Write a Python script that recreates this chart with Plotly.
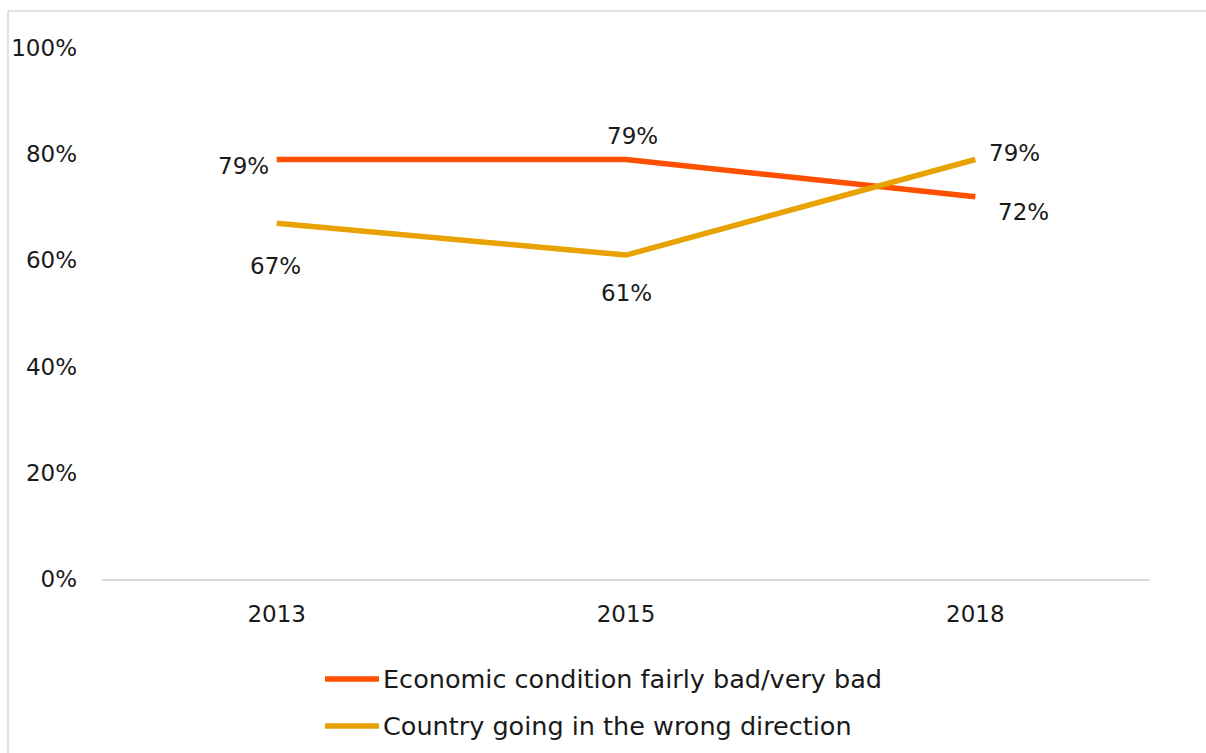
import plotly.graph_objects as go

# Survey years and shares (percent)
years = ["2013", "2015", "2018"]
economy_bad = [79, 79, 72]
wrong_direction = [67, 61, 79]
series_names = ["Economic condition fairly bad/very bad", "Country going in the wrong direction"]
y_ticks = [0, 20, 40, 60, 80, 100]
y_tick_text = ["0%", "20%", "40%", "60%", "80%", "100%"]

W, H = 1206, 753
ML, MR, MT, MB = 102, 56, 48, 174
PW, PH = W - ML - MR, H - MT - MB

ORANGE = "#FF5000"
GOLD = "#E8A202"
FONT = "DejaVu Sans"
FS = 23
FS_LEGEND = 25.5
TXT = "#1a1a1a"


def px_x(x):
    return (x - ML) / PW


def px_y(y):
    return (H - MB - y) / PH


fig = go.Figure()
fig.add_trace(go.Scatter(x=years, y=economy_bad, mode="lines", name=series_names[0],
                         line=dict(color=ORANGE, width=5.5), showlegend=False))
fig.add_trace(go.Scatter(x=years, y=wrong_direction, mode="lines", name=series_names[1],
                         line=dict(color=GOLD, width=5.5), showlegend=False))

# value labels positioned by category index: (xshift, yshift)
label_offsets_econ = [(-33, -6), (6, 24), (48, -15)]
label_offsets_dir = [(-1, -43), (0, -38), (39, 7)]
annotations = []
for vals, offs in [(economy_bad, label_offsets_econ), (wrong_direction, label_offsets_dir)]:
    for i, (v, (dx, dy)) in enumerate(zip(vals, offs)):
        annotations.append(dict(x=i, y=v, xref="x", yref="y", text=f"{v}%", showarrow=False,
                                xshift=dx, yshift=dy, font=dict(family=FONT, size=FS, color=TXT)))

# legend drawn below the plot
shapes = []
for name, color, ly in [(series_names[0], ORANGE, 679), (series_names[1], GOLD, 726)]:
    shapes.append(dict(type="line", xref="paper", yref="paper", x0=px_x(325), x1=px_x(379),
                       y0=px_y(ly), y1=px_y(ly), line=dict(color=color, width=5.5)))
    annotations.append(dict(x=px_x(381), y=px_y(ly), xref="paper", yref="paper", text=name,
                            showarrow=False, xanchor="left", yanchor="middle",
                            font=dict(family=FONT, size=FS_LEGEND, color=TXT)))

# outer frame lines (top and left)
shapes.append(dict(type="line", xref="paper", yref="paper", x0=px_x(8), x1=px_x(W + 5),
                   y0=px_y(11), y1=px_y(11), line=dict(color="#D9D9D9", width=1.5)))
shapes.append(dict(type="line", xref="paper", yref="paper", x0=px_x(8), x1=px_x(8),
                   y0=px_y(11), y1=px_y(H + 5), line=dict(color="#D9D9D9", width=1.5)))

fig.update_layout(
    width=W, height=H,
    margin=dict(l=ML, r=MR, t=MT, b=MB),
    paper_bgcolor="white", plot_bgcolor="white",
    font=dict(family=FONT, size=FS, color=TXT),
    showlegend=False,
    annotations=annotations,
    shapes=shapes,
    xaxis=dict(type="category", range=[-0.5, 2.5], showgrid=False, showline=True,
               linecolor="#D9D9D9", linewidth=2, ticks="", ticklabelstandoff=13,
               tickfont=dict(family=FONT, size=FS, color=TXT), zeroline=False),
    yaxis=dict(range=[0, 100], tickvals=y_ticks, ticktext=y_tick_text, showgrid=False,
               showline=False, zeroline=False, ticks="", ticklabelstandoff=24,
               tickfont=dict(family=FONT, size=FS, color=TXT)),
)

fig.write_html("out.html")
